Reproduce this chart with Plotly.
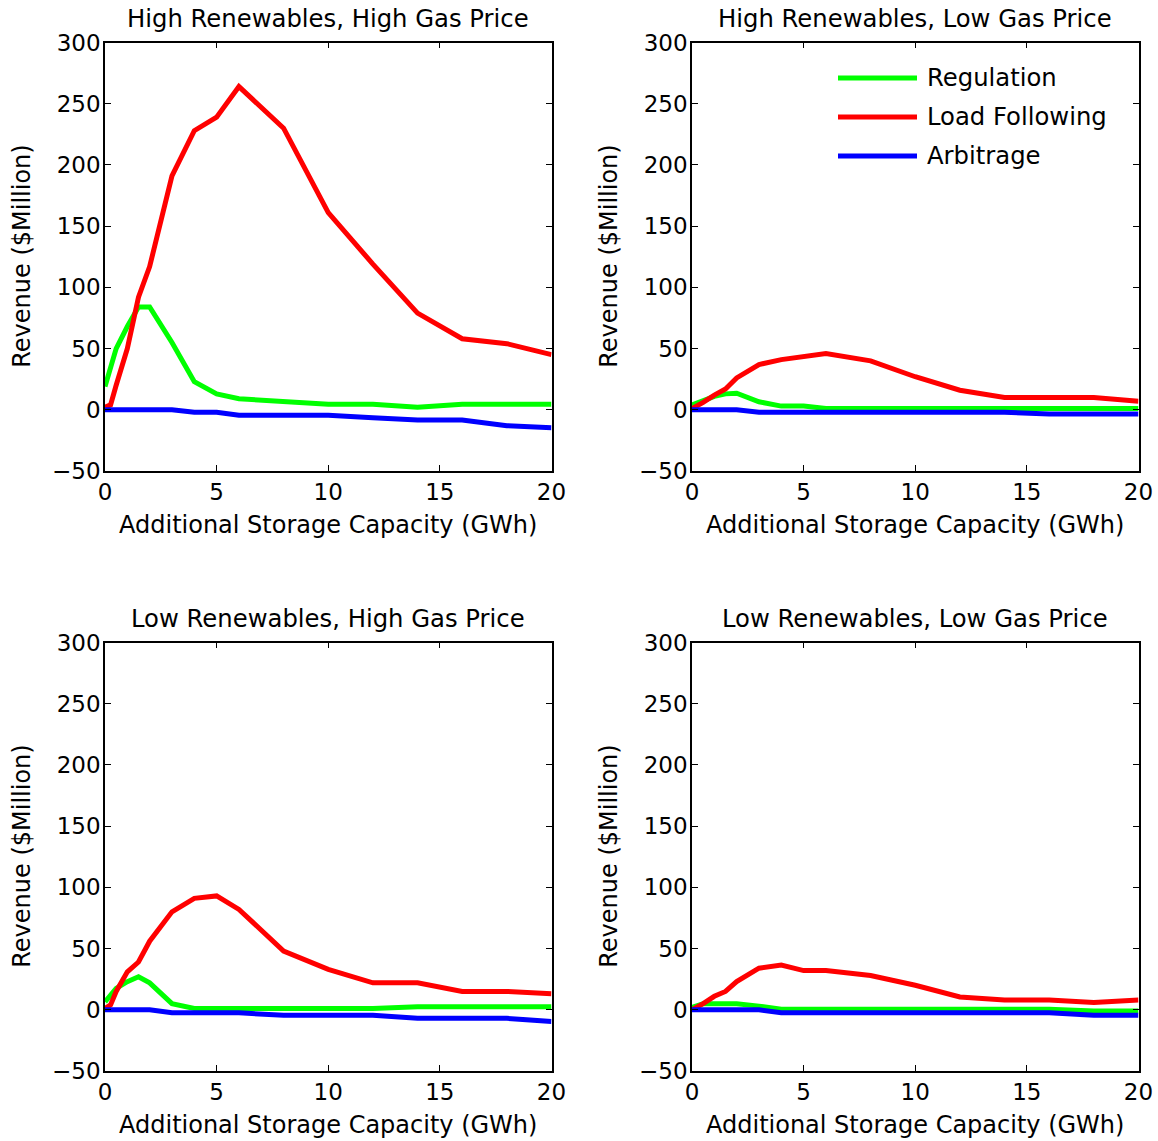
import plotly.graph_objects as go

# Storage capacity grid (GWh)
capacity = [0, 0.25, 0.5, 1, 1.5, 2, 3, 4, 5, 6, 8, 10, 12, 14, 16, 18, 20]

scenarios = [
    "High Renewables, High Gas Price",
    "High Renewables, Low Gas Price",
    "Low Renewables, High Gas Price",
    "Low Renewables, Low Gas Price",
]

# Revenue ($Million) per scenario
regulation_hrhg = [19, 36, 50, 68, 84, 84, 55, 23, 13, 9, 7, 4.5, 4.5, 2, 4.5, 4.5, 4.5]
load_following_hrhg = [2, 4, 20, 50, 92, 117, 191, 228, 239, 264, 230, 161, 119, 79, 58, 54, 45]
arbitrage_hrhg = [0, 0, 0, 0, 0, 0, 0, -2, -2, -4.4, -4.4, -4.4, -6.5, -8.4, -8.4, -13, -14.7]

regulation_hrlg = [4, 6, 8, 11, 13, 13.5, 6.5, 3, 3, 1, 1, 1, 1, 1, 1, 1, 1]
load_following_hrlg = [1, 3, 6, 12, 17, 26, 37, 41, 43.5, 46, 40, 27, 16, 10, 10, 10, 7]
arbitrage_hrlg = [0, 0, 0, 0, 0, 0, -2, -2, -2, -2, -2, -2, -2, -2, -3.5, -3.5, -3.5]

regulation_lrhg = [6.5, 12, 17.5, 23, 27, 22, 5, 1, 1, 1, 1, 1, 1, 2.5, 2.5, 2.5, 2.5]
load_following_lrhg = [1, 4, 15, 31, 39, 56, 80, 91, 93, 82, 48, 33, 22, 22, 15, 15, 13]
arbitrage_lrhg = [0, 0, 0, 0, 0, 0, -2.5, -2.5, -2.5, -2.5, -4.5, -4.5, -4.5, -7, -7, -7, -9.5]

regulation_lrlg = [2, 3.5, 5, 5, 5, 5, 3, 0.5, 0.5, 0.5, 0.5, 0.5, 0.5, 0.5, 0.5, -1, -1]
load_following_lrlg = [0, 2, 5, 11, 15, 23, 34, 36.5, 32, 32, 28, 20, 10.5, 8, 8, 6, 8]
arbitrage_lrlg = [0, 0, 0, 0, 0, 0, 0, -2.5, -2.5, -2.5, -2.5, -2.5, -2.5, -2.5, -2.5, -4.5, -4.5]

series_names = ["Regulation", "Load Following", "Arbitrage"]
series_colors = ["#00FF00", "#FF0000", "#0000FF"]

panel_data = [
    [regulation_hrhg, load_following_hrhg, arbitrage_hrhg],
    [regulation_hrlg, load_following_hrlg, arbitrage_hrlg],
    [regulation_lrhg, load_following_lrhg, arbitrage_lrhg],
    [regulation_lrlg, load_following_lrlg, arbitrage_lrlg],
]

x_ticks = [0, 5, 10, 15, 20]
y_ticks = [-50, 0, 50, 100, 150, 200, 250, 300]

W, H = 1158, 1141
FONT = "DejaVu Sans, Verdana, sans-serif"
TICK_FS = 23
LABEL_FS = 24
TITLE_FS = 24.3

# pixel boxes of the four axes: (left, right, top, bottom)
boxes = [
    (105, 551.5, 42.5, 471),
    (692, 1138.5, 42.5, 471),
    (105, 551.5, 642.5, 1071),
    (692, 1138.5, 642.5, 1071),
]

fig = go.Figure()
annotations = []
shapes = []

for i, (box, data) in enumerate(zip(boxes, panel_data)):
    l, r, t, b = box
    n = "" if i == 0 else str(i + 1)
    xa, ya = "x" + n, "y" + n
    for vals, name, color in zip(data, series_names, series_colors):
        fig.add_trace(go.Scatter(
            x=capacity, y=vals, mode="lines", name=name,
            line=dict(color=color, width=5), xaxis=xa, yaxis=ya,
            showlegend=False, hoverinfo="x+y+name",
        ))
    axis_common = dict(
        showline=True, linecolor="black", linewidth=1.5, mirror="ticks",
        ticks="inside", ticklen=6, tickwidth=1, tickcolor="black",
        showgrid=False, zeroline=False, automargin=False,
        tickfont=dict(family=FONT, size=TICK_FS, color="black"),
    )
    fig.update_layout({
        "xaxis" + n: dict(
            domain=[l / W, r / W], range=[0, 20], tickvals=x_ticks,
            anchor=ya, ticklabelstandoff=0, **axis_common),
        "yaxis" + n: dict(
            domain=[1 - b / H, 1 - t / H], range=[-50, 300], tickvals=y_ticks,
            anchor=xa, ticklabelstandoff=-2, **axis_common),
    })
    cx = (l + r) / 2
    # panel title
    annotations.append(dict(
        text=scenarios[i], x=cx / W, y=1 - (t - 24) / H, xref="paper", yref="paper",
        xanchor="center", yanchor="middle", showarrow=False,
        font=dict(family=FONT, size=TITLE_FS, color="black")))
    # x-axis label
    annotations.append(dict(
        text="Additional Storage Capacity (GWh)", x=cx / W, y=1 - (b + 54) / H,
        xref="paper", yref="paper", xanchor="center", yanchor="middle",
        showarrow=False, font=dict(family=FONT, size=LABEL_FS, color="black")))
    # y-axis label
    annotations.append(dict(
        text="Revenue ($Million)", x=(l - 83) / W, y=1 - ((t + b) / 2) / H,
        xref="paper", yref="paper", xanchor="center", yanchor="middle",
        textangle=-90, showarrow=False,
        font=dict(family=FONT, size=LABEL_FS, color="black")))

# legend in the upper-right panel
leg_x0, leg_x1, leg_text_x = 838, 917, 925
leg_rows = [78, 117, 156]
for yy, name, color in zip(leg_rows, series_names, series_colors):
    shapes.append(dict(
        type="line", xref="paper", yref="paper",
        x0=leg_x0 / W, x1=leg_x1 / W, y0=1 - yy / H, y1=1 - yy / H,
        line=dict(color=color, width=5)))
    annotations.append(dict(
        text=name, x=leg_text_x / W, y=1 - yy / H, xref="paper", yref="paper",
        xanchor="left", yanchor="middle", showarrow=False,
        font=dict(family=FONT, size=TITLE_FS, color="black")))

fig.update_layout(
    width=W, height=H, margin=dict(l=0, r=0, t=0, b=0),
    paper_bgcolor="white", plot_bgcolor="white",
    annotations=annotations, shapes=shapes, showlegend=False,
)

fig.write_html("out.html")
